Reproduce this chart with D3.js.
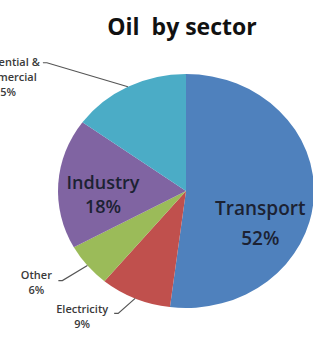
<!DOCTYPE html>
<html>
<head>
<meta charset="utf-8">
<script src="https://cdn.jsdelivr.net/npm/d3@7"></script>
<style>
  body { margin: 0; background: #fff; }
  svg { display: block; }
  text { font-family: "Open Sans", "DejaVu Sans", sans-serif; }
</style>
</head>
<body>
<div id="chart"></div>
<script>
const width = 313;
const height = 341;

const sectors = ["Transport", "Electricity", "Other", "Industry", "Residential & Commercial"];
const shares = [52, 9, 6, 18, 15];
const labelLines = [["Transport", "52%"], ["Electricity", "9%"], ["Other", "6%"], ["Industry", "18%"], ["Residential &", "Commercial", "15%"]];
const sliceColors = ["#4f81bd", "#c0504d", "#9bbb59", "#8064a2", "#4bacc6"];

const data = sectors.map((s, i) => ({ sector: s, share: shares[i], lines: labelLines[i], color: sliceColors[i] }));

// pie is drawn a bit wider than tall, like the original
const cx = 186, cy = 191, R = 117, sx = 1.094;

// label placement (inside: radius + nudge, outside: leader end + text offset)
const layout = {
  "Transport": { inside: true, r: 68, dy: 28, size: 19, gap: 30 },
  "Industry": { inside: true, r: 76, dy: 8, size: 18, gap: 24 },
  "Electricity": { lx: -17, ly: 15, tx: -36, ty: 0 },
  "Other": { lx: -25, ly: 15, tx: -26, ty: -2 },
  "Residential & Commercial": { lx: -81, ly: -24, tx: -42, ty: 3 }
};

const svg = d3.select("#chart").append("svg")
  .attr("width", width)
  .attr("height", height);

svg.append("text")
  .attr("x", 182)
  .attr("y", 35)
  .attr("text-anchor", "middle")
  .attr("font-size", "23px")
  .attr("font-weight", "bold")
  .attr("fill", "#111")
  .style("white-space", "pre")
  .text("Oil  by sector");

const pie = d3.pie().sort(null).value(d => d.share);
const arc = d3.arc().innerRadius(0).outerRadius(R);
const arcs = pie(data);

svg.append("g")
  .attr("transform", `translate(${cx},${cy}) scale(${sx},1)`)
  .selectAll("path")
  .data(arcs)
  .join("path")
  .attr("d", arc)
  .attr("fill", d => d.data.color);

function pointAt(angle, r) {
  return [cx + r * Math.sin(angle) * sx, cy - r * Math.cos(angle)];
}

arcs.forEach(a => {
  const L = layout[a.data.sector];
  const mid = (a.startAngle + a.endAngle) / 2;
  if (L.inside) {
    const [x, y] = pointAt(mid, L.r);
    const t = svg.append("text")
      .attr("text-anchor", "middle")
      .attr("font-size", L.size + "px")
      .attr("font-weight", 600)
      .attr("fill", "#1c2233");
    const n = a.data.lines.length;
    a.data.lines.forEach((line, i) => {
      t.append("tspan")
        .attr("x", x)
        .attr("y", y + L.dy + (i - (n - 1) / 2) * L.gap + L.size * 0.35)
        .text(line);
    });
  } else {
    const [ex, ey] = pointAt(mid, R);
    const lx = ex + L.lx, ly = ey + L.ly;
    svg.append("path")
      .attr("d", `M${ex},${ey}L${lx},${ly}L${lx - 4},${ly}`)
      .attr("fill", "none")
      .attr("stroke", "#555")
      .attr("stroke-width", 1.2);
    const t = svg.append("text")
      .attr("text-anchor", "middle")
      .attr("font-size", "11px")
      .attr("font-weight", 600)
      .attr("fill", "#3a3a3a");
    a.data.lines.forEach((line, i) => {
      t.append("tspan")
        .attr("x", lx + L.tx)
        .attr("y", ly + L.ty + i * 15)
        .text(line);
    });
  }
});
</script>
</body>
</html>
